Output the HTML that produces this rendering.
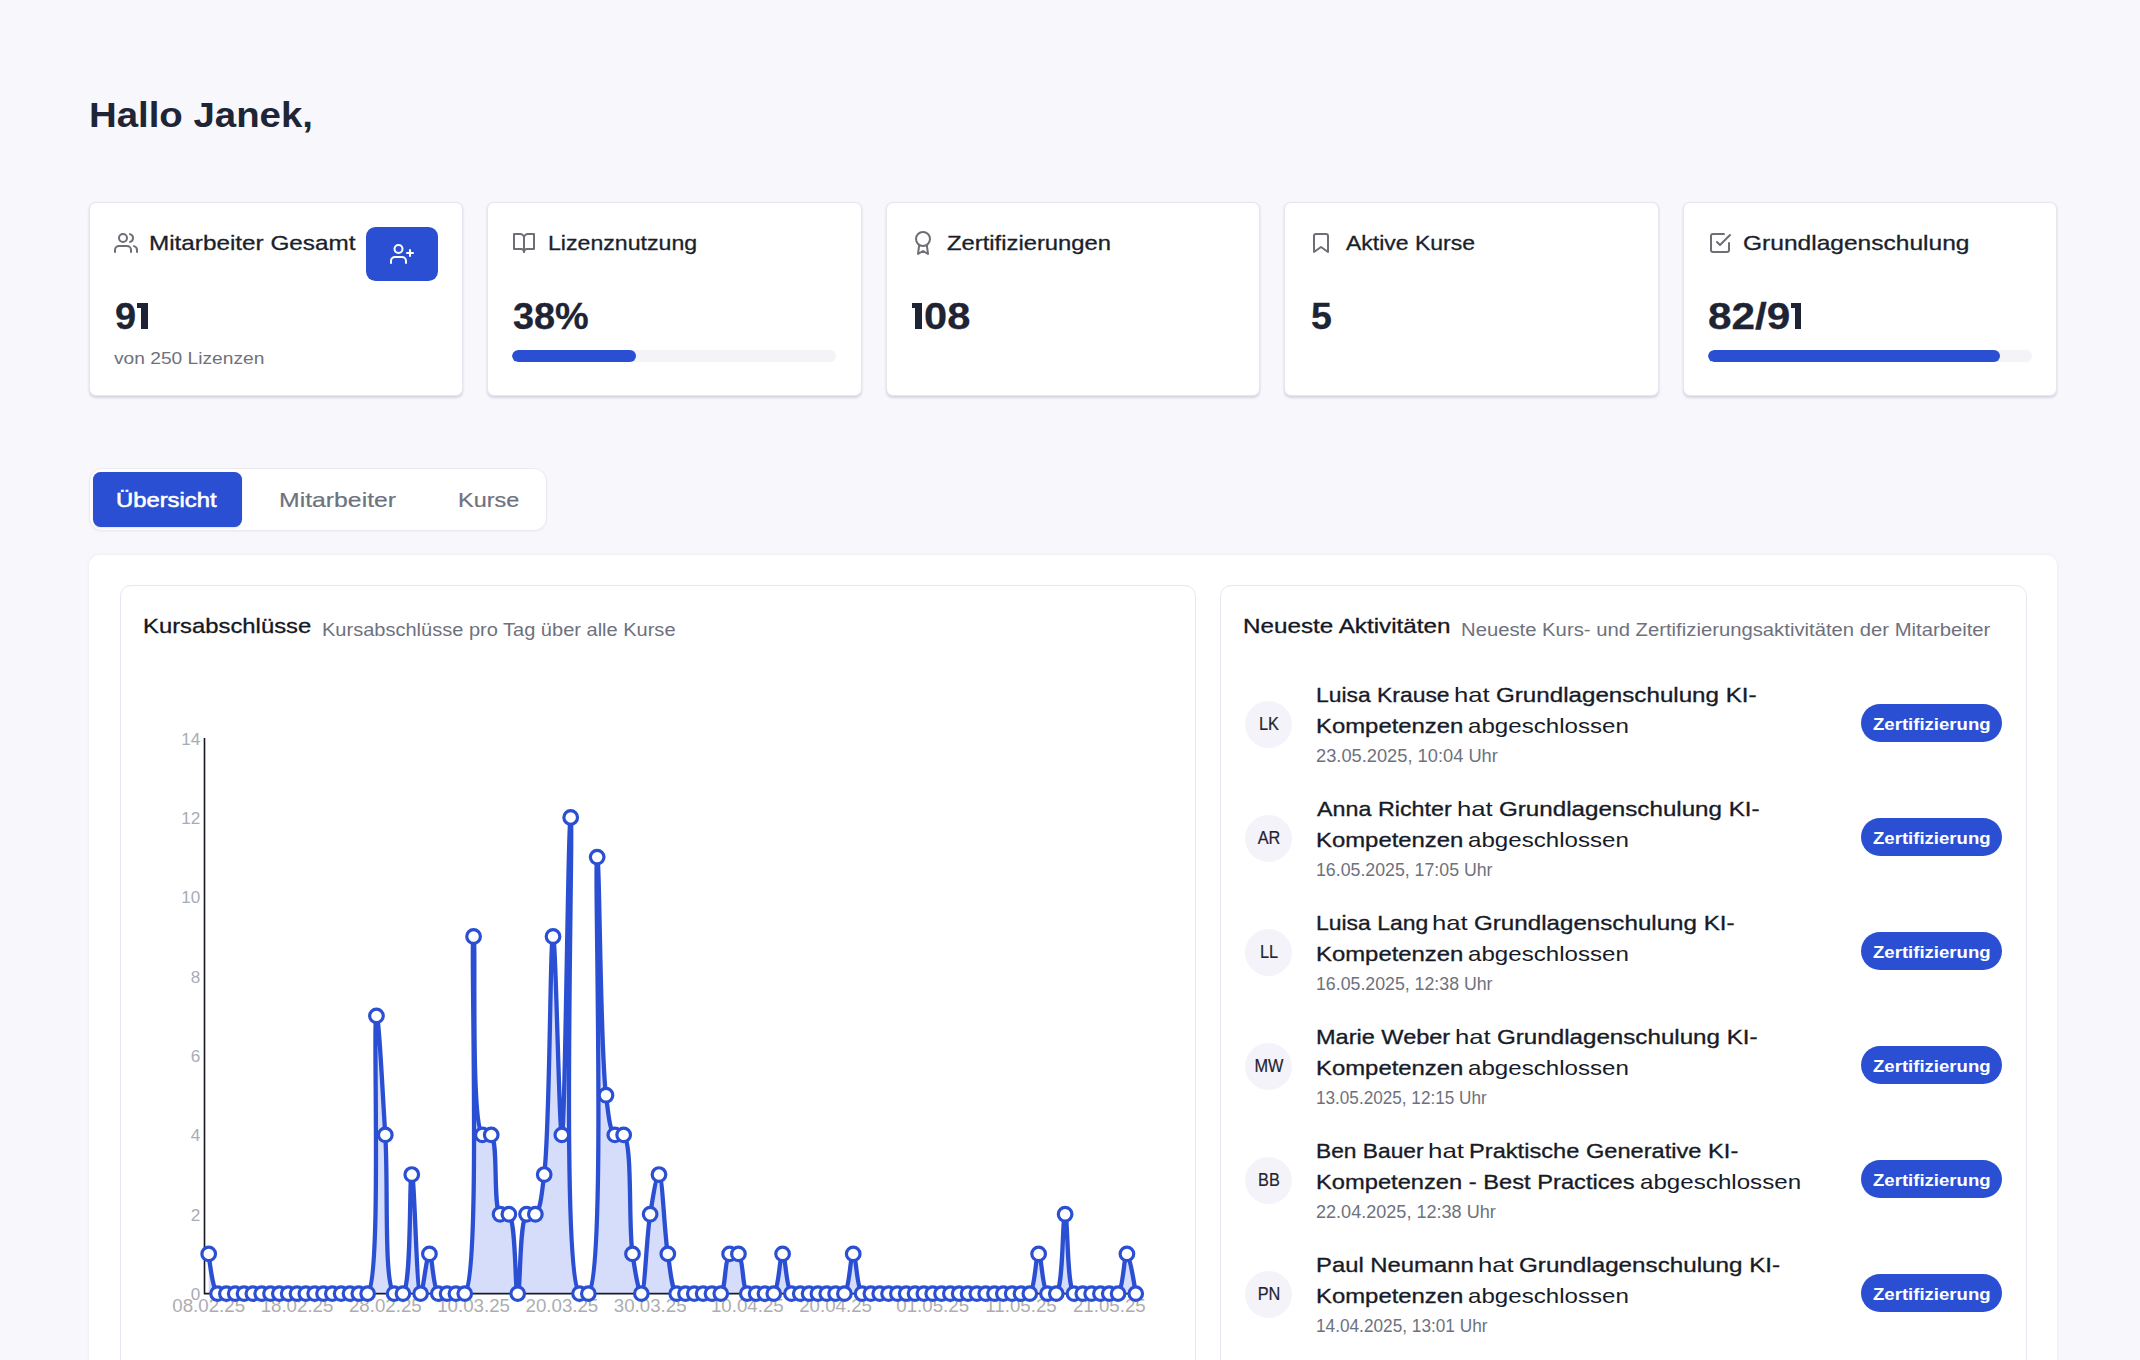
<!DOCTYPE html>
<html lang="de"><head><meta charset="utf-8"><title>Dashboard</title>
<style>
html,body{margin:0;padding:0}
body{width:2140px;height:1360px;overflow:hidden;background:#f7f7fc;font-family:"Liberation Sans",sans-serif;position:relative}
.t{position:absolute;white-space:pre;line-height:1;}
.card{position:absolute;top:202.1px;width:374.5px;height:193.9px;box-sizing:border-box;background:#fff;border:1px solid #e6e6ee;border-radius:7px;box-shadow:0 1.5px 2.5px rgba(20,20,60,.15)}
.panel{position:absolute;left:89.4px;top:555px;width:1967.4px;height:900px;background:#fff;border-radius:11px;box-shadow:0 0 4px rgba(30,30,80,.06)}
.inner{position:absolute;top:585px;height:900px;background:#fff;border:1px solid #e6e6f0;border-radius:11px;box-sizing:border-box}
.tabs{position:absolute;left:89.2px;top:468px;width:457.4px;height:62.6px;background:#fff;border:1px solid #eaeaf3;border-radius:13px;box-sizing:border-box;box-shadow:0 1px 2px rgba(30,30,80,.04)}
.tabact{position:absolute;left:93.3px;top:472.2px;width:148.7px;height:54.4px;background:#2b4fd3;border-radius:7.5px;box-shadow:0 1px 2px rgba(0,0,0,.12)}
.btn{position:absolute;left:366.2px;top:226.9px;width:71.7px;height:53.8px;background:#2b4fd3;border-radius:9.5px}
.track{position:absolute;top:350.4px;height:11.2px;width:324px;background:#f3f3f8;border-radius:6px;overflow:hidden}
.track i{display:block;height:100%;background:#2b4fd3;border-radius:6px}
.one{position:absolute;background:#1e2433}
.av{position:absolute;left:1245.1px;width:47.4px;height:47.4px;border-radius:50%;background:#f4f3fa}
.badge{position:absolute;left:1861.2px;width:140.8px;height:38.4px;border-radius:20px;background:#2b4fd3}
</style></head><body>

<div class="card" style="left:88.60px"></div>
<div class="card" style="left:487.10px"></div>
<div class="card" style="left:885.60px"></div>
<div class="card" style="left:1284.10px"></div>
<div class="card" style="left:1682.60px"></div>
<svg style="position:absolute;left:113.90px;top:230.80px" width="24" height="24" viewBox="0 0 24 24" fill="none" stroke="#6e6e77" stroke-width="2" stroke-linecap="round" stroke-linejoin="round"><path d="M17 21v-2a4 4 0 0 0-4-4H5a4 4 0 0 0-4 4v2"/><circle cx="9" cy="7" r="4"/><path d="M23 21v-2a4 4 0 0 0-3-3.87"/><path d="M16 3.13a4 4 0 0 1 0 7.75"/></svg>
<svg style="position:absolute;left:512.40px;top:230.80px" width="24" height="24" viewBox="0 0 24 24" fill="none" stroke="#6e6e77" stroke-width="2" stroke-linecap="round" stroke-linejoin="round"><path d="M2 3h6a4 4 0 0 1 4 4v14a3 3 0 0 0-3-3H2z"/><path d="M22 3h-6a4 4 0 0 0-4 4v14a3 3 0 0 1 3-3h7z"/></svg>
<svg style="position:absolute;left:910.90px;top:230.80px" width="24" height="24" viewBox="0 0 24 24" fill="none" stroke="#6e6e77" stroke-width="2" stroke-linecap="round" stroke-linejoin="round"><circle cx="12" cy="8" r="7"/><polyline points="8.21 13.89 7 23 12 20 17 23 15.79 13.88"/></svg>
<svg style="position:absolute;left:1309.40px;top:230.80px" width="24" height="24" viewBox="0 0 24 24" fill="none" stroke="#6e6e77" stroke-width="2" stroke-linecap="round" stroke-linejoin="round"><path d="M19 21l-7-5-7 5V5a2 2 0 0 1 2-2h10a2 2 0 0 1 2 2z"/></svg>
<svg style="position:absolute;left:1707.90px;top:230.80px" width="24" height="24" viewBox="0 0 24 24" fill="none" stroke="#6e6e77" stroke-width="2" stroke-linecap="round" stroke-linejoin="round"><polyline points="9 11 12 14 22 4"/><path d="M21 12v7a2 2 0 0 1-2 2H5a2 2 0 0 1-2-2V5a2 2 0 0 1 2-2h11"/></svg>
<div class="btn"></div>
<svg style="position:absolute;left:390.05px;top:241.80px" width="24" height="24" viewBox="0 0 24 24" fill="none" stroke="#fff" stroke-width="2" stroke-linecap="round" stroke-linejoin="round"><path d="M16 21v-2a4 4 0 0 0-4-4H5a4 4 0 0 0-4 4v2"/><circle cx="8.5" cy="7" r="4"/><line x1="20" y1="8" x2="20" y2="14"/><line x1="23" y1="11" x2="17" y2="11"/></svg>
<div class="track" style="left:512.2px"><i style="width:38.2%"></i></div>
<div class="track" style="left:1708.2px"><i style="width:90.1%"></i></div>
<div class="tabs"></div><div class="tabact"></div>
<div class="panel"></div>
<div class="inner" style="left:119.6px;width:1076.4px"></div>
<div class="inner" style="left:1220.4px;width:806.4px"></div>
<div class="av" style="top:700.50px"></div>
<div class="badge" style="top:704.00px"></div>
<div class="av" style="top:814.50px"></div>
<div class="badge" style="top:818.00px"></div>
<div class="av" style="top:928.50px"></div>
<div class="badge" style="top:932.00px"></div>
<div class="av" style="top:1042.50px"></div>
<div class="badge" style="top:1046.00px"></div>
<div class="av" style="top:1156.50px"></div>
<div class="badge" style="top:1160.00px"></div>
<div class="av" style="top:1270.50px"></div>
<div class="badge" style="top:1274.00px"></div>
<svg class="chart" width="2140" height="1360" viewBox="0 0 2140 1360" style="position:absolute;left:0;top:0;overflow:visible">
<g font-family="Liberation Sans, sans-serif" font-size="17.1" fill="#a7acb9" text-anchor="end">
<text x="200.2" y="1300.1">0</text>
<text x="200.2" y="1220.7">2</text>
<text x="200.2" y="1141.4">4</text>
<text x="200.2" y="1062.0">6</text>
<text x="200.2" y="982.7">8</text>
<text x="200.2" y="903.3">10</text>
<text x="200.2" y="823.9">12</text>
<text x="200.2" y="744.6">14</text>
</g>
<g font-family="Liberation Sans, sans-serif" font-size="18.7" fill="#adadb1" text-anchor="middle">
<text x="208.7" y="1311.6">08.02.25</text>
<text x="297.0" y="1311.6">18.02.25</text>
<text x="385.3" y="1311.6">28.02.25</text>
<text x="473.6" y="1311.6">10.03.25</text>
<text x="561.9" y="1311.6">20.03.25</text>
<text x="650.2" y="1311.6">30.03.25</text>
<text x="747.3" y="1311.6">10.04.25</text>
<text x="835.6" y="1311.6">20.04.25</text>
<text x="932.7" y="1311.6">01.05.25</text>
<text x="1021.0" y="1311.6">11.05.25</text>
<text x="1109.3" y="1311.6">21.05.25</text>
</g>
<path d="M204.5,738 V1293.6 H1138" fill="none" stroke="#16181f" stroke-width="1.6"/>
<path d="M208.70,1253.92C208.70,1253.92,212.29,1289.40,217.53,1293.60C219.97,1295.56,223.42,1293.60,226.36,1293.60C229.30,1293.60,232.24,1293.60,235.19,1293.60C238.13,1293.60,241.07,1293.60,244.02,1293.60C246.96,1293.60,249.90,1293.60,252.84,1293.60C255.79,1293.60,258.73,1293.60,261.67,1293.60C264.62,1293.60,267.56,1293.60,270.50,1293.60C273.45,1293.60,276.39,1293.60,279.33,1293.60C282.28,1293.60,285.22,1293.60,288.16,1293.60C291.10,1293.60,294.05,1293.60,296.99,1293.60C299.93,1293.60,302.88,1293.60,305.82,1293.60C308.76,1293.60,311.70,1293.60,314.65,1293.60C317.59,1293.60,320.53,1293.60,323.48,1293.60C326.42,1293.60,329.36,1293.60,332.31,1293.60C335.25,1293.60,338.19,1293.60,341.13,1293.60C344.08,1293.60,347.02,1293.60,349.96,1293.60C352.91,1293.60,355.85,1293.60,358.79,1293.60C361.74,1293.60,365.04,1296.10,367.62,1293.60C382.08,1279.59,372.57,1015.92,376.45,1015.84C378.99,1015.79,382.52,1092.34,385.28,1134.88C388.47,1183.97,383.44,1283.51,394.11,1293.60C396.62,1295.98,400.45,1295.91,402.94,1293.60C412.07,1285.12,408.82,1174.56,411.77,1174.56C414.71,1174.56,416.33,1293.29,420.60,1293.60C423.09,1293.78,426.48,1253.92,429.43,1253.92C432.37,1253.92,433.01,1289.40,438.25,1293.60C440.70,1295.56,444.14,1293.60,447.08,1293.60C450.03,1293.60,452.97,1293.60,455.91,1293.60C458.86,1293.60,462.13,1296.14,464.74,1293.60C481.32,1277.43,470.05,936.51,473.57,936.48C476.19,936.45,470.36,1123.36,482.40,1134.88C484.94,1137.31,488.78,1132.68,491.23,1134.88C498.60,1141.48,492.68,1207.64,500.06,1214.24C502.51,1216.44,506.43,1212.04,508.89,1214.24C516.26,1220.84,514.77,1293.60,517.72,1293.60C520.66,1293.60,519.17,1220.84,526.54,1214.24C529.00,1212.04,532.93,1216.20,535.37,1214.24C540.62,1210.04,541.76,1193.50,544.20,1174.56C550.10,1128.70,549.94,936.49,553.03,936.48C555.85,936.47,559.19,1134.90,561.86,1134.88C565.24,1134.85,567.99,817.43,570.69,817.44C574.00,817.46,560.14,1274.58,579.52,1293.60C582.16,1296.19,585.72,1296.18,588.35,1293.60C606.83,1275.49,593.63,857.15,597.18,857.12C599.79,857.10,600.10,1049.34,606.00,1095.20C608.44,1114.14,609.59,1130.68,614.83,1134.88C617.28,1136.84,621.18,1132.57,623.66,1134.88C632.80,1143.36,628.22,1224.98,632.49,1253.92C634.98,1270.81,638.73,1293.74,641.32,1293.60C644.95,1293.40,646.52,1236.07,650.15,1214.24C652.74,1198.66,656.39,1174.42,658.98,1174.56C662.61,1174.76,664.18,1232.09,667.81,1253.92C670.40,1269.50,671.39,1289.40,676.64,1293.60C679.08,1295.56,682.52,1293.60,685.47,1293.60C688.41,1293.60,691.35,1293.60,694.30,1293.60C697.24,1293.60,700.18,1293.60,703.12,1293.60C706.07,1293.60,709.01,1293.60,711.95,1293.60C714.90,1293.60,718.34,1295.56,720.78,1293.60C726.03,1289.40,724.37,1258.12,729.61,1253.92C732.05,1251.96,736.00,1251.96,738.44,1253.92C743.68,1258.12,742.03,1289.40,747.27,1293.60C749.71,1295.56,753.15,1293.60,756.10,1293.60C759.04,1293.60,761.98,1293.60,764.93,1293.60C767.87,1293.60,771.31,1295.56,773.76,1293.60C779.00,1289.40,779.64,1253.92,782.59,1253.92C785.53,1253.92,786.17,1289.40,791.41,1293.60C793.86,1295.56,797.30,1293.60,800.24,1293.60C803.19,1293.60,806.13,1293.60,809.07,1293.60C812.02,1293.60,814.96,1293.60,817.90,1293.60C820.84,1293.60,823.79,1293.60,826.73,1293.60C829.67,1293.60,832.62,1293.60,835.56,1293.60C838.50,1293.60,841.94,1295.56,844.39,1293.60C849.63,1289.40,850.27,1253.92,853.22,1253.92C856.16,1253.92,856.80,1289.40,862.05,1293.60C864.49,1295.56,867.93,1293.60,870.88,1293.60C873.82,1293.60,876.76,1293.60,879.70,1293.60C882.65,1293.60,885.59,1293.60,888.53,1293.60C891.48,1293.60,894.42,1293.60,897.36,1293.60C900.31,1293.60,903.25,1293.60,906.19,1293.60C909.13,1293.60,912.08,1293.60,915.02,1293.60C917.96,1293.60,920.91,1293.60,923.85,1293.60C926.79,1293.60,929.74,1293.60,932.68,1293.60C935.62,1293.60,938.56,1293.60,941.51,1293.60C944.45,1293.60,947.39,1293.60,950.34,1293.60C953.28,1293.60,956.22,1293.60,959.16,1293.60C962.11,1293.60,965.05,1293.60,967.99,1293.60C970.94,1293.60,973.88,1293.60,976.82,1293.60C979.77,1293.60,982.71,1293.60,985.65,1293.60C988.60,1293.60,991.54,1293.60,994.48,1293.60C997.42,1293.60,1000.37,1293.60,1003.31,1293.60C1006.25,1293.60,1009.20,1293.60,1012.14,1293.60C1015.08,1293.60,1018.03,1293.60,1020.97,1293.60C1023.91,1293.60,1027.35,1295.56,1029.80,1293.60C1035.04,1289.40,1035.68,1253.92,1038.63,1253.92C1041.57,1253.92,1042.21,1289.40,1047.46,1293.60C1049.90,1295.56,1053.83,1295.80,1056.28,1293.60C1063.66,1287.00,1062.17,1214.24,1065.11,1214.24C1068.06,1214.24,1066.57,1287.00,1073.94,1293.60C1076.39,1295.80,1079.83,1293.60,1082.77,1293.60C1085.71,1293.60,1088.66,1293.60,1091.60,1293.60C1094.54,1293.60,1097.49,1293.60,1100.43,1293.60C1103.37,1293.60,1106.31,1293.60,1109.26,1293.60C1112.20,1293.60,1115.64,1295.56,1118.09,1293.60C1123.33,1289.40,1123.97,1253.92,1126.92,1253.92C1129.86,1253.92,1135.75,1293.60,1135.75,1293.60L1135.75,1293.6L208.70,1293.6Z" fill="#2d55e6" fill-opacity="0.2" stroke="none"/>
<path d="M208.70,1253.92C208.70,1253.92,212.29,1289.40,217.53,1293.60C219.97,1295.56,223.42,1293.60,226.36,1293.60C229.30,1293.60,232.24,1293.60,235.19,1293.60C238.13,1293.60,241.07,1293.60,244.02,1293.60C246.96,1293.60,249.90,1293.60,252.84,1293.60C255.79,1293.60,258.73,1293.60,261.67,1293.60C264.62,1293.60,267.56,1293.60,270.50,1293.60C273.45,1293.60,276.39,1293.60,279.33,1293.60C282.28,1293.60,285.22,1293.60,288.16,1293.60C291.10,1293.60,294.05,1293.60,296.99,1293.60C299.93,1293.60,302.88,1293.60,305.82,1293.60C308.76,1293.60,311.70,1293.60,314.65,1293.60C317.59,1293.60,320.53,1293.60,323.48,1293.60C326.42,1293.60,329.36,1293.60,332.31,1293.60C335.25,1293.60,338.19,1293.60,341.13,1293.60C344.08,1293.60,347.02,1293.60,349.96,1293.60C352.91,1293.60,355.85,1293.60,358.79,1293.60C361.74,1293.60,365.04,1296.10,367.62,1293.60C382.08,1279.59,372.57,1015.92,376.45,1015.84C378.99,1015.79,382.52,1092.34,385.28,1134.88C388.47,1183.97,383.44,1283.51,394.11,1293.60C396.62,1295.98,400.45,1295.91,402.94,1293.60C412.07,1285.12,408.82,1174.56,411.77,1174.56C414.71,1174.56,416.33,1293.29,420.60,1293.60C423.09,1293.78,426.48,1253.92,429.43,1253.92C432.37,1253.92,433.01,1289.40,438.25,1293.60C440.70,1295.56,444.14,1293.60,447.08,1293.60C450.03,1293.60,452.97,1293.60,455.91,1293.60C458.86,1293.60,462.13,1296.14,464.74,1293.60C481.32,1277.43,470.05,936.51,473.57,936.48C476.19,936.45,470.36,1123.36,482.40,1134.88C484.94,1137.31,488.78,1132.68,491.23,1134.88C498.60,1141.48,492.68,1207.64,500.06,1214.24C502.51,1216.44,506.43,1212.04,508.89,1214.24C516.26,1220.84,514.77,1293.60,517.72,1293.60C520.66,1293.60,519.17,1220.84,526.54,1214.24C529.00,1212.04,532.93,1216.20,535.37,1214.24C540.62,1210.04,541.76,1193.50,544.20,1174.56C550.10,1128.70,549.94,936.49,553.03,936.48C555.85,936.47,559.19,1134.90,561.86,1134.88C565.24,1134.85,567.99,817.43,570.69,817.44C574.00,817.46,560.14,1274.58,579.52,1293.60C582.16,1296.19,585.72,1296.18,588.35,1293.60C606.83,1275.49,593.63,857.15,597.18,857.12C599.79,857.10,600.10,1049.34,606.00,1095.20C608.44,1114.14,609.59,1130.68,614.83,1134.88C617.28,1136.84,621.18,1132.57,623.66,1134.88C632.80,1143.36,628.22,1224.98,632.49,1253.92C634.98,1270.81,638.73,1293.74,641.32,1293.60C644.95,1293.40,646.52,1236.07,650.15,1214.24C652.74,1198.66,656.39,1174.42,658.98,1174.56C662.61,1174.76,664.18,1232.09,667.81,1253.92C670.40,1269.50,671.39,1289.40,676.64,1293.60C679.08,1295.56,682.52,1293.60,685.47,1293.60C688.41,1293.60,691.35,1293.60,694.30,1293.60C697.24,1293.60,700.18,1293.60,703.12,1293.60C706.07,1293.60,709.01,1293.60,711.95,1293.60C714.90,1293.60,718.34,1295.56,720.78,1293.60C726.03,1289.40,724.37,1258.12,729.61,1253.92C732.05,1251.96,736.00,1251.96,738.44,1253.92C743.68,1258.12,742.03,1289.40,747.27,1293.60C749.71,1295.56,753.15,1293.60,756.10,1293.60C759.04,1293.60,761.98,1293.60,764.93,1293.60C767.87,1293.60,771.31,1295.56,773.76,1293.60C779.00,1289.40,779.64,1253.92,782.59,1253.92C785.53,1253.92,786.17,1289.40,791.41,1293.60C793.86,1295.56,797.30,1293.60,800.24,1293.60C803.19,1293.60,806.13,1293.60,809.07,1293.60C812.02,1293.60,814.96,1293.60,817.90,1293.60C820.84,1293.60,823.79,1293.60,826.73,1293.60C829.67,1293.60,832.62,1293.60,835.56,1293.60C838.50,1293.60,841.94,1295.56,844.39,1293.60C849.63,1289.40,850.27,1253.92,853.22,1253.92C856.16,1253.92,856.80,1289.40,862.05,1293.60C864.49,1295.56,867.93,1293.60,870.88,1293.60C873.82,1293.60,876.76,1293.60,879.70,1293.60C882.65,1293.60,885.59,1293.60,888.53,1293.60C891.48,1293.60,894.42,1293.60,897.36,1293.60C900.31,1293.60,903.25,1293.60,906.19,1293.60C909.13,1293.60,912.08,1293.60,915.02,1293.60C917.96,1293.60,920.91,1293.60,923.85,1293.60C926.79,1293.60,929.74,1293.60,932.68,1293.60C935.62,1293.60,938.56,1293.60,941.51,1293.60C944.45,1293.60,947.39,1293.60,950.34,1293.60C953.28,1293.60,956.22,1293.60,959.16,1293.60C962.11,1293.60,965.05,1293.60,967.99,1293.60C970.94,1293.60,973.88,1293.60,976.82,1293.60C979.77,1293.60,982.71,1293.60,985.65,1293.60C988.60,1293.60,991.54,1293.60,994.48,1293.60C997.42,1293.60,1000.37,1293.60,1003.31,1293.60C1006.25,1293.60,1009.20,1293.60,1012.14,1293.60C1015.08,1293.60,1018.03,1293.60,1020.97,1293.60C1023.91,1293.60,1027.35,1295.56,1029.80,1293.60C1035.04,1289.40,1035.68,1253.92,1038.63,1253.92C1041.57,1253.92,1042.21,1289.40,1047.46,1293.60C1049.90,1295.56,1053.83,1295.80,1056.28,1293.60C1063.66,1287.00,1062.17,1214.24,1065.11,1214.24C1068.06,1214.24,1066.57,1287.00,1073.94,1293.60C1076.39,1295.80,1079.83,1293.60,1082.77,1293.60C1085.71,1293.60,1088.66,1293.60,1091.60,1293.60C1094.54,1293.60,1097.49,1293.60,1100.43,1293.60C1103.37,1293.60,1106.31,1293.60,1109.26,1293.60C1112.20,1293.60,1115.64,1295.56,1118.09,1293.60C1123.33,1289.40,1123.97,1253.92,1126.92,1253.92C1129.86,1253.92,1135.75,1293.60,1135.75,1293.60" fill="none" stroke="#2b4fd3" stroke-width="4.3" stroke-linejoin="round"/>
<g fill="#fff" stroke="#2b4fd3" stroke-width="3.2">
<circle cx="208.70" cy="1253.92" r="6.8"/>
<circle cx="217.53" cy="1293.60" r="6.8"/>
<circle cx="226.36" cy="1293.60" r="6.8"/>
<circle cx="235.19" cy="1293.60" r="6.8"/>
<circle cx="244.02" cy="1293.60" r="6.8"/>
<circle cx="252.84" cy="1293.60" r="6.8"/>
<circle cx="261.67" cy="1293.60" r="6.8"/>
<circle cx="270.50" cy="1293.60" r="6.8"/>
<circle cx="279.33" cy="1293.60" r="6.8"/>
<circle cx="288.16" cy="1293.60" r="6.8"/>
<circle cx="296.99" cy="1293.60" r="6.8"/>
<circle cx="305.82" cy="1293.60" r="6.8"/>
<circle cx="314.65" cy="1293.60" r="6.8"/>
<circle cx="323.48" cy="1293.60" r="6.8"/>
<circle cx="332.31" cy="1293.60" r="6.8"/>
<circle cx="341.13" cy="1293.60" r="6.8"/>
<circle cx="349.96" cy="1293.60" r="6.8"/>
<circle cx="358.79" cy="1293.60" r="6.8"/>
<circle cx="367.62" cy="1293.60" r="6.8"/>
<circle cx="376.45" cy="1015.84" r="6.8"/>
<circle cx="385.28" cy="1134.88" r="6.8"/>
<circle cx="394.11" cy="1293.60" r="6.8"/>
<circle cx="402.94" cy="1293.60" r="6.8"/>
<circle cx="411.77" cy="1174.56" r="6.8"/>
<circle cx="420.60" cy="1293.60" r="6.8"/>
<circle cx="429.43" cy="1253.92" r="6.8"/>
<circle cx="438.25" cy="1293.60" r="6.8"/>
<circle cx="447.08" cy="1293.60" r="6.8"/>
<circle cx="455.91" cy="1293.60" r="6.8"/>
<circle cx="464.74" cy="1293.60" r="6.8"/>
<circle cx="473.57" cy="936.48" r="6.8"/>
<circle cx="482.40" cy="1134.88" r="6.8"/>
<circle cx="491.23" cy="1134.88" r="6.8"/>
<circle cx="500.06" cy="1214.24" r="6.8"/>
<circle cx="508.89" cy="1214.24" r="6.8"/>
<circle cx="517.72" cy="1293.60" r="6.8"/>
<circle cx="526.54" cy="1214.24" r="6.8"/>
<circle cx="535.37" cy="1214.24" r="6.8"/>
<circle cx="544.20" cy="1174.56" r="6.8"/>
<circle cx="553.03" cy="936.48" r="6.8"/>
<circle cx="561.86" cy="1134.88" r="6.8"/>
<circle cx="570.69" cy="817.44" r="6.8"/>
<circle cx="579.52" cy="1293.60" r="6.8"/>
<circle cx="588.35" cy="1293.60" r="6.8"/>
<circle cx="597.18" cy="857.12" r="6.8"/>
<circle cx="606.00" cy="1095.20" r="6.8"/>
<circle cx="614.83" cy="1134.88" r="6.8"/>
<circle cx="623.66" cy="1134.88" r="6.8"/>
<circle cx="632.49" cy="1253.92" r="6.8"/>
<circle cx="641.32" cy="1293.60" r="6.8"/>
<circle cx="650.15" cy="1214.24" r="6.8"/>
<circle cx="658.98" cy="1174.56" r="6.8"/>
<circle cx="667.81" cy="1253.92" r="6.8"/>
<circle cx="676.64" cy="1293.60" r="6.8"/>
<circle cx="685.47" cy="1293.60" r="6.8"/>
<circle cx="694.30" cy="1293.60" r="6.8"/>
<circle cx="703.12" cy="1293.60" r="6.8"/>
<circle cx="711.95" cy="1293.60" r="6.8"/>
<circle cx="720.78" cy="1293.60" r="6.8"/>
<circle cx="729.61" cy="1253.92" r="6.8"/>
<circle cx="738.44" cy="1253.92" r="6.8"/>
<circle cx="747.27" cy="1293.60" r="6.8"/>
<circle cx="756.10" cy="1293.60" r="6.8"/>
<circle cx="764.93" cy="1293.60" r="6.8"/>
<circle cx="773.76" cy="1293.60" r="6.8"/>
<circle cx="782.59" cy="1253.92" r="6.8"/>
<circle cx="791.41" cy="1293.60" r="6.8"/>
<circle cx="800.24" cy="1293.60" r="6.8"/>
<circle cx="809.07" cy="1293.60" r="6.8"/>
<circle cx="817.90" cy="1293.60" r="6.8"/>
<circle cx="826.73" cy="1293.60" r="6.8"/>
<circle cx="835.56" cy="1293.60" r="6.8"/>
<circle cx="844.39" cy="1293.60" r="6.8"/>
<circle cx="853.22" cy="1253.92" r="6.8"/>
<circle cx="862.05" cy="1293.60" r="6.8"/>
<circle cx="870.88" cy="1293.60" r="6.8"/>
<circle cx="879.70" cy="1293.60" r="6.8"/>
<circle cx="888.53" cy="1293.60" r="6.8"/>
<circle cx="897.36" cy="1293.60" r="6.8"/>
<circle cx="906.19" cy="1293.60" r="6.8"/>
<circle cx="915.02" cy="1293.60" r="6.8"/>
<circle cx="923.85" cy="1293.60" r="6.8"/>
<circle cx="932.68" cy="1293.60" r="6.8"/>
<circle cx="941.51" cy="1293.60" r="6.8"/>
<circle cx="950.34" cy="1293.60" r="6.8"/>
<circle cx="959.16" cy="1293.60" r="6.8"/>
<circle cx="967.99" cy="1293.60" r="6.8"/>
<circle cx="976.82" cy="1293.60" r="6.8"/>
<circle cx="985.65" cy="1293.60" r="6.8"/>
<circle cx="994.48" cy="1293.60" r="6.8"/>
<circle cx="1003.31" cy="1293.60" r="6.8"/>
<circle cx="1012.14" cy="1293.60" r="6.8"/>
<circle cx="1020.97" cy="1293.60" r="6.8"/>
<circle cx="1029.80" cy="1293.60" r="6.8"/>
<circle cx="1038.63" cy="1253.92" r="6.8"/>
<circle cx="1047.46" cy="1293.60" r="6.8"/>
<circle cx="1056.28" cy="1293.60" r="6.8"/>
<circle cx="1065.11" cy="1214.24" r="6.8"/>
<circle cx="1073.94" cy="1293.60" r="6.8"/>
<circle cx="1082.77" cy="1293.60" r="6.8"/>
<circle cx="1091.60" cy="1293.60" r="6.8"/>
<circle cx="1100.43" cy="1293.60" r="6.8"/>
<circle cx="1109.26" cy="1293.60" r="6.8"/>
<circle cx="1118.09" cy="1293.60" r="6.8"/>
<circle cx="1126.92" cy="1253.92" r="6.8"/>
<circle cx="1135.75" cy="1293.60" r="6.8"/>
</g>
</svg>
<div class="t" id="t0" style="font-size:34.70px;color:#1e2536;top:98.10px;left:89.37px;transform-origin:0 0;transform:scaleX(1.1061);"><span style="font-weight:700;">Hallo Janek,</span></div>
<div class="t" id="t1" style="font-size:19.99px;color:#1a1f2c;-webkit-text-stroke:0.3px currentColor;top:233.10px;left:149.42px;transform-origin:0 0;transform:scaleX(1.2149);">Mitarbeiter Gesamt</div>
<div class="t" id="t2" style="font-size:19.99px;color:#1a1f2c;-webkit-text-stroke:0.3px currentColor;top:233.10px;left:547.81px;transform-origin:0 0;transform:scaleX(1.1573);">Lizenznutzung</div>
<div class="t" id="t3" style="font-size:19.99px;color:#1a1f2c;-webkit-text-stroke:0.3px currentColor;top:233.10px;left:947.13px;transform-origin:0 0;transform:scaleX(1.1912);">Zertifizierungen</div>
<div class="t" id="t4" style="font-size:19.99px;color:#1a1f2c;-webkit-text-stroke:0.3px currentColor;top:233.10px;left:1345.70px;transform-origin:0 0;transform:scaleX(1.1505);">Aktive Kurse</div>
<div class="t" id="t5" style="font-size:19.99px;color:#1a1f2c;-webkit-text-stroke:0.3px currentColor;top:233.10px;left:1742.67px;transform-origin:0 0;transform:scaleX(1.2281);">Grundlagenschulung</div>
<div class="t" id="t6" style="font-size:36.60px;color:#1e2433;-webkit-text-stroke:0.3px currentColor;top:299.10px;left:114.77px;transform-origin:0 0;transform:scaleX(1.0371);"><span style="font-weight:700;">9</span></div>
<div class="t" id="t7" style="font-size:36.60px;color:#1e2433;-webkit-text-stroke:0.3px currentColor;top:299.10px;left:512.90px;transform-origin:0 0;transform:scaleX(1.0353);"><span style="font-weight:700;">38%</span></div>
<div class="t" id="t8" style="font-size:36.60px;color:#1e2433;-webkit-text-stroke:0.3px currentColor;top:299.10px;left:923.88px;transform-origin:0 0;transform:scaleX(1.1369);"><span style="font-weight:700;">08</span></div>
<div class="t" id="t9" style="font-size:36.60px;color:#1e2433;-webkit-text-stroke:0.3px currentColor;top:299.10px;left:1310.98px;transform-origin:0 0;transform:scaleX(1.0250);"><span style="font-weight:700;">5</span></div>
<div class="t" id="t10" style="font-size:36.60px;color:#1e2433;-webkit-text-stroke:0.3px currentColor;top:299.10px;left:1707.81px;transform-origin:0 0;transform:scaleX(1.1564);"><span style="font-weight:700;">82/9</span></div>
<div class="t" id="t11" style="font-size:17.34px;color:#6e717d;top:350.10px;left:113.90px;transform-origin:0 0;transform:scaleX(1.1067);">von 250 Lizenzen</div>
<div class="t" id="t12" style="font-size:20.30px;color:#ffffff;-webkit-text-stroke:0.55px currentColor;top:490.10px;left:116.10px;transform-origin:0 0;transform:scaleX(1.1739);">Übersicht</div>
<div class="t" id="t13" style="font-size:20.30px;color:#6f727e;-webkit-text-stroke:0.2px currentColor;top:490.10px;left:278.78px;transform-origin:0 0;transform:scaleX(1.2220);">Mitarbeiter</div>
<div class="t" id="t14" style="font-size:20.30px;color:#6f727e;-webkit-text-stroke:0.2px currentColor;top:490.10px;left:458.26px;transform-origin:0 0;transform:scaleX(1.1564);">Kurse</div>
<div class="t" id="t15" style="font-size:20.30px;color:#141824;-webkit-text-stroke:0.3px currentColor;top:616.10px;left:142.99px;transform-origin:0 0;transform:scaleX(1.1752);">Kursabschlüsse</div>
<div class="t" id="t16" style="font-size:17.44px;color:#6e717d;top:622.10px;left:322.23px;transform-origin:0 0;transform:scaleX(1.1481);">Kursabschlüsse pro Tag über alle Kurse</div>
<div class="t" id="t17" style="font-size:20.30px;color:#141824;-webkit-text-stroke:0.3px currentColor;top:616.10px;left:1242.81px;transform-origin:0 0;transform:scaleX(1.1950);">Neueste Aktivitäten</div>
<div class="t" id="t18" style="font-size:17.44px;color:#6e717d;top:622.10px;left:1461.42px;transform-origin:0 0;transform:scaleX(1.1621);">Neueste Kurs- und Zertifizierungsaktivitäten der Mitarbeiter</div>
<div class="t" id="t19" style="font-size:20.30px;color:#171b27;top:685.10px;left:1315.60px;transform-origin:0 0;transform:scaleX(1.1286);"><span style="-webkit-text-stroke:0.32px currentColor;">Luisa Krause</span></div>
<div class="t" id="t20" style="font-size:20.30px;color:#171b27;top:685.10px;left:1454.43px;transform-origin:0 0;transform:scaleX(1.2684);">hat</div>
<div class="t" id="t21" style="font-size:20.30px;color:#171b27;top:685.10px;left:1496.10px;transform-origin:0 0;transform:scaleX(1.1914);"><span style="-webkit-text-stroke:0.32px currentColor;">Grundlagenschulung KI-</span></div>
<div class="t" id="t22" style="font-size:20.30px;color:#171b27;top:716.10px;left:1315.92px;transform-origin:0 0;transform:scaleX(1.1776);"><span style="-webkit-text-stroke:0.32px currentColor;">Kompetenzen</span></div>
<div class="t" id="t23" style="font-size:20.30px;color:#171b27;top:716.10px;left:1468.13px;transform-origin:0 0;transform:scaleX(1.1887);">abgeschlossen</div>
<div class="t" id="t24" style="font-size:17.44px;color:#6e717d;top:748.10px;left:1316.12px;transform-origin:0 0;transform:scaleX(1.0477);">23.05.2025, 10:04 Uhr</div>
<div class="t" id="t25" style="font-size:17.20px;color:#ffffff;top:716.10px;left:1872.73px;transform-origin:0 0;transform:scaleX(1.0801);"><span style="font-weight:700;">Zertifizierung</span></div>
<div class="t" id="t26" style="font-size:17.54px;color:#1f2430;-webkit-text-stroke:0.2px currentColor;top:716.10px;left:1208.80px;width:120px;text-align:center;transform:scaleX(0.93);">LK</div>
<div class="t" id="t27" style="font-size:20.30px;color:#171b27;top:799.10px;left:1317.10px;transform-origin:0 0;transform:scaleX(1.1489);"><span style="-webkit-text-stroke:0.32px currentColor;">Anna Richter</span></div>
<div class="t" id="t28" style="font-size:20.30px;color:#171b27;top:799.10px;left:1457.43px;transform-origin:0 0;transform:scaleX(1.2684);">hat</div>
<div class="t" id="t29" style="font-size:20.30px;color:#171b27;top:799.10px;left:1499.10px;transform-origin:0 0;transform:scaleX(1.1914);"><span style="-webkit-text-stroke:0.32px currentColor;">Grundlagenschulung KI-</span></div>
<div class="t" id="t30" style="font-size:20.30px;color:#171b27;top:830.10px;left:1315.92px;transform-origin:0 0;transform:scaleX(1.1776);"><span style="-webkit-text-stroke:0.32px currentColor;">Kompetenzen</span></div>
<div class="t" id="t31" style="font-size:20.30px;color:#171b27;top:830.10px;left:1468.13px;transform-origin:0 0;transform:scaleX(1.1887);">abgeschlossen</div>
<div class="t" id="t32" style="font-size:17.44px;color:#6e717d;top:862.10px;left:1316.48px;transform-origin:0 0;transform:scaleX(1.0171);">16.05.2025, 17:05 Uhr</div>
<div class="t" id="t33" style="font-size:17.20px;color:#ffffff;top:830.10px;left:1872.73px;transform-origin:0 0;transform:scaleX(1.0801);"><span style="font-weight:700;">Zertifizierung</span></div>
<div class="t" id="t34" style="font-size:17.54px;color:#1f2430;-webkit-text-stroke:0.2px currentColor;top:830.10px;left:1208.80px;width:120px;text-align:center;transform:scaleX(0.93);">AR</div>
<div class="t" id="t35" style="font-size:20.30px;color:#171b27;top:913.10px;left:1315.64px;transform-origin:0 0;transform:scaleX(1.1308);"><span style="-webkit-text-stroke:0.32px currentColor;">Luisa Lang</span></div>
<div class="t" id="t36" style="font-size:20.30px;color:#171b27;top:913.10px;left:1432.43px;transform-origin:0 0;transform:scaleX(1.2684);">hat</div>
<div class="t" id="t37" style="font-size:20.30px;color:#171b27;top:913.10px;left:1474.10px;transform-origin:0 0;transform:scaleX(1.1914);"><span style="-webkit-text-stroke:0.32px currentColor;">Grundlagenschulung KI-</span></div>
<div class="t" id="t38" style="font-size:20.30px;color:#171b27;top:944.10px;left:1315.92px;transform-origin:0 0;transform:scaleX(1.1776);"><span style="-webkit-text-stroke:0.32px currentColor;">Kompetenzen</span></div>
<div class="t" id="t39" style="font-size:20.30px;color:#171b27;top:944.10px;left:1468.13px;transform-origin:0 0;transform:scaleX(1.1887);">abgeschlossen</div>
<div class="t" id="t40" style="font-size:17.44px;color:#6e717d;top:976.10px;left:1316.48px;transform-origin:0 0;transform:scaleX(1.0171);">16.05.2025, 12:38 Uhr</div>
<div class="t" id="t41" style="font-size:17.20px;color:#ffffff;top:944.10px;left:1872.73px;transform-origin:0 0;transform:scaleX(1.0801);"><span style="font-weight:700;">Zertifizierung</span></div>
<div class="t" id="t42" style="font-size:17.54px;color:#1f2430;-webkit-text-stroke:0.2px currentColor;top:944.10px;left:1208.80px;width:120px;text-align:center;transform:scaleX(0.93);">LL</div>
<div class="t" id="t43" style="font-size:20.30px;color:#171b27;top:1027.10px;left:1315.60px;transform-origin:0 0;transform:scaleX(1.1598);"><span style="-webkit-text-stroke:0.32px currentColor;">Marie Weber</span></div>
<div class="t" id="t44" style="font-size:20.30px;color:#171b27;top:1027.10px;left:1455.43px;transform-origin:0 0;transform:scaleX(1.2684);">hat</div>
<div class="t" id="t45" style="font-size:20.30px;color:#171b27;top:1027.10px;left:1497.10px;transform-origin:0 0;transform:scaleX(1.1914);"><span style="-webkit-text-stroke:0.32px currentColor;">Grundlagenschulung KI-</span></div>
<div class="t" id="t46" style="font-size:20.30px;color:#171b27;top:1058.10px;left:1315.92px;transform-origin:0 0;transform:scaleX(1.1776);"><span style="-webkit-text-stroke:0.32px currentColor;">Kompetenzen</span></div>
<div class="t" id="t47" style="font-size:20.30px;color:#171b27;top:1058.10px;left:1468.13px;transform-origin:0 0;transform:scaleX(1.1887);">abgeschlossen</div>
<div class="t" id="t48" style="font-size:17.44px;color:#6e717d;top:1090.10px;left:1315.54px;transform-origin:0 0;transform:scaleX(0.9833);">13.05.2025, 12:15 Uhr</div>
<div class="t" id="t49" style="font-size:17.20px;color:#ffffff;top:1058.10px;left:1872.73px;transform-origin:0 0;transform:scaleX(1.0801);"><span style="font-weight:700;">Zertifizierung</span></div>
<div class="t" id="t50" style="font-size:17.54px;color:#1f2430;-webkit-text-stroke:0.2px currentColor;top:1058.10px;left:1208.80px;width:120px;text-align:center;transform:scaleX(0.93);">MW</div>
<div class="t" id="t51" style="font-size:20.30px;color:#171b27;top:1141.10px;left:1315.66px;transform-origin:0 0;transform:scaleX(1.1219);"><span style="-webkit-text-stroke:0.32px currentColor;">Ben Bauer</span></div>
<div class="t" id="t52" style="font-size:20.30px;color:#171b27;top:1141.10px;left:1428.01px;transform-origin:0 0;transform:scaleX(1.2764);">hat</div>
<div class="t" id="t53" style="font-size:20.30px;color:#171b27;top:1141.10px;left:1469.00px;transform-origin:0 0;transform:scaleX(1.1653);"><span style="-webkit-text-stroke:0.32px currentColor;">Praktische Generative KI-</span></div>
<div class="t" id="t54" style="font-size:20.30px;color:#171b27;top:1172.10px;left:1315.60px;transform-origin:0 0;transform:scaleX(1.1679);"><span style="-webkit-text-stroke:0.32px currentColor;">Kompetenzen - Best Practices</span></div>
<div class="t" id="t55" style="font-size:20.30px;color:#171b27;top:1172.10px;left:1639.86px;transform-origin:0 0;transform:scaleX(1.1909);">abgeschlossen</div>
<div class="t" id="t56" style="font-size:17.44px;color:#6e717d;top:1204.10px;left:1315.81px;transform-origin:0 0;transform:scaleX(1.0357);">22.04.2025, 12:38 Uhr</div>
<div class="t" id="t57" style="font-size:17.20px;color:#ffffff;top:1172.10px;left:1872.73px;transform-origin:0 0;transform:scaleX(1.0801);"><span style="font-weight:700;">Zertifizierung</span></div>
<div class="t" id="t58" style="font-size:17.54px;color:#1f2430;-webkit-text-stroke:0.2px currentColor;top:1172.10px;left:1208.80px;width:120px;text-align:center;transform:scaleX(0.93);">BB</div>
<div class="t" id="t59" style="font-size:20.30px;color:#171b27;top:1255.10px;left:1316.29px;transform-origin:0 0;transform:scaleX(1.1752);"><span style="-webkit-text-stroke:0.32px currentColor;">Paul Neumann</span></div>
<div class="t" id="t60" style="font-size:20.30px;color:#171b27;top:1255.10px;left:1478.09px;transform-origin:0 0;transform:scaleX(1.2680);">hat</div>
<div class="t" id="t61" style="font-size:20.30px;color:#171b27;top:1255.10px;left:1518.88px;transform-origin:0 0;transform:scaleX(1.1937);"><span style="-webkit-text-stroke:0.32px currentColor;">Grundlagenschulung KI-</span></div>
<div class="t" id="t62" style="font-size:20.30px;color:#171b27;top:1286.10px;left:1315.92px;transform-origin:0 0;transform:scaleX(1.1776);"><span style="-webkit-text-stroke:0.32px currentColor;">Kompetenzen</span></div>
<div class="t" id="t63" style="font-size:20.30px;color:#171b27;top:1286.10px;left:1468.13px;transform-origin:0 0;transform:scaleX(1.1887);">abgeschlossen</div>
<div class="t" id="t64" style="font-size:17.44px;color:#6e717d;top:1318.10px;left:1315.55px;transform-origin:0 0;transform:scaleX(0.9882);">14.04.2025, 13:01 Uhr</div>
<div class="t" id="t65" style="font-size:17.20px;color:#ffffff;top:1286.10px;left:1872.73px;transform-origin:0 0;transform:scaleX(1.0801);"><span style="font-weight:700;">Zertifizierung</span></div>
<div class="t" id="t66" style="font-size:17.54px;color:#1f2430;-webkit-text-stroke:0.2px currentColor;top:1286.10px;left:1208.80px;width:120px;text-align:center;transform:scaleX(0.93);">PN</div>
<div class="one" style="left:141.10px;top:303.3px;width:6.70px;height:25.5px"></div><div class="one" style="left:136.90px;top:303.3px;width:4.80px;height:4.6px"></div><div class="t" style="left:136.90px;top:298px;font-size:36.6px;font-weight:700;color:transparent;transform-origin:0 0;transform:scaleX(.5)">1</div>
<div class="one" style="left:915.00px;top:303.3px;width:7.00px;height:25.5px"></div><div class="one" style="left:911.90px;top:303.3px;width:3.70px;height:4.6px"></div><div class="t" style="left:911.90px;top:298px;font-size:36.6px;font-weight:700;color:transparent;transform-origin:0 0;transform:scaleX(.5)">1</div>
<div class="one" style="left:1794.80px;top:303.3px;width:6.40px;height:25.5px"></div><div class="one" style="left:1791.10px;top:303.3px;width:4.30px;height:4.6px"></div><div class="t" style="left:1791.10px;top:298px;font-size:36.6px;font-weight:700;color:transparent;transform-origin:0 0;transform:scaleX(.5)">1</div>
</body></html>
